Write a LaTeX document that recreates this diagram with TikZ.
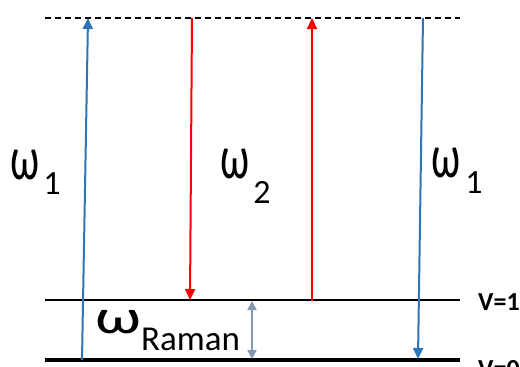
\documentclass[tikz,border=0pt]{standalone}
\usepackage{fontspec}
\setmainfont{Carlito}
\usetikzlibrary{arrows.meta}
\definecolor{ablue}{HTML}{2E75B6}
\definecolor{agray}{HTML}{8497B0}
\tikzset{
  level/.style={draw=black},
  blueline/.style={draw=ablue, line width=2pt, -{Triangle[width=10pt,length=11pt]}},
  redline/.style={draw=red, line width=2pt, -{Triangle[width=10pt,length=11pt]}},
  grayline/.style={draw=agray, line width=2pt, {Triangle[width=9pt,length=9pt]}-{Triangle[width=9pt,length=9pt]}},
  omegalabel/.style={anchor=base west, inner sep=0pt, font=\fontsize{44}{44}\selectfont},
  vlabel/.style={anchor=base west, inner sep=0pt, font=\fontsize{26}{26}\selectfont\bfseries},
}
\newcommand{\bigw}{\scalebox{0.95}[1.4]{ω}}
\begin{document}
\begin{tikzpicture}[x=1pt,y=-1pt]
\useasboundingbox (0,0) rectangle (520,367);
% levels
\coordinate (dl) at (45,18);  \coordinate (dr) at (460,18);
\coordinate (al) at (45,300); \coordinate (ar) at (460,300);
\coordinate (bl) at (45,360); \coordinate (br) at (460,360);
\draw[level, dashed, line width=1.2pt, dash pattern=on 6pt off 4pt] (dl) -- (dr);
\draw[level, line width=1.1pt] (al) -- (ar);
\draw[level, line width=4pt] (bl) -- (br);
% arrows
\coordinate (b1s) at (82,360); \coordinate (b1e) at (88,18);
\coordinate (r1s) at (192,18); \coordinate (r1e) at (190,300);
\coordinate (r2s) at (312,301); \coordinate (r2e) at (312,18);
\coordinate (b2s) at (423,18); \coordinate (b2e) at (418,359);
\coordinate (g1) at (252,301); \coordinate (g2) at (252,359);
\draw[blueline] (b1s) -- (b1e);
\draw[redline] (r1s) -- (r1e);
\draw[redline] (r2s) -- (r2e);
\draw[blueline] (b2s) -- (b2e);
\draw[grayline] (g1) -- (g2);
% labels
\node[omegalabel] (w1) at (10,179) {\bigw\hspace{4pt}\raisebox{-15pt}{\fontsize{34}{34}\selectfont 1}};
\node[omegalabel] (w2) at (220,178) {\bigw\hspace{4pt}\raisebox{-25pt}{\fontsize{34}{34}\selectfont 2}};
\node[omegalabel] (w3) at (431,177) {\bigw\hspace{5pt}\raisebox{-16pt}{\fontsize{34}{34}\selectfont 1}};
\node[omegalabel] (wr) at (95,333) {\scalebox{1.5}[1.1]{ω}\hspace{0pt}\raisebox{-17pt}{\fontsize{35}{35}\selectfont Raman}};
\node[vlabel] (v1) at (478,310) {V=1};
\node[vlabel] (v0) at (478,377) {V=0};
\end{tikzpicture}
\end{document}
